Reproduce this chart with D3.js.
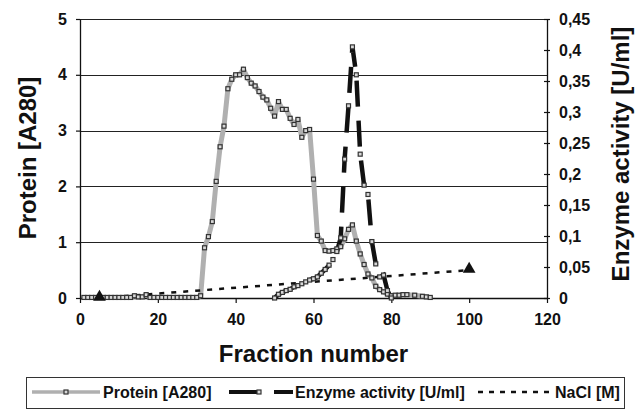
<!DOCTYPE html>
<html>
<head>
<meta charset="utf-8">
<script src="https://cdn.jsdelivr.net/npm/d3@7"></script>
<style>
	body { margin: 0; background: #fff; }
	svg { display: block; font-family: "Liberation Sans", Arial, sans-serif; }
</style>
</head>
<body>
<div id="chartDiv"></div>
<script>
;(function() {

	// fraction numbers and A280 readings (protein)
	var proteinFraction = [1, 2, 3, 4, 5, 6, 7, 8, 9, 10, 11, 12, 13, 14, 15, 16, 17, 18, 19, 20,
		21, 22, 23, 24, 25, 26, 27, 28, 29, 30, 31, 32, 33, 34, 35, 36, 37, 38, 39, 40,
		41, 42, 43, 44, 45, 46, 47, 48, 49, 50, 51, 52, 53, 54, 55, 56, 57, 58, 59, 60,
		61, 62, 63, 64, 65, 66, 67, 68, 69, 70, 71, 72, 73, 74, 75, 76, 77, 78, 79, 80,
		81, 82, 83, 84, 86, 88, 89, 90];
	var proteinA280 = [0.01, 0.01, 0.01, 0.01, 0.01, 0.01, 0.01, 0.01, 0.01, 0.01, 0.01, 0.01, 0.01, 0.04, 0.02, 0.02, 0.06, 0.01, 0.01, 0.01,
		0.01, 0.01, 0.01, 0.01, 0.01, 0.01, 0.01, 0.01, 0.01, 0.01, 0.04, 0.9, 1.1, 1.37, 2.09, 2.71, 3.08, 3.75, 3.92, 4.0,
		4.0, 4.1, 3.95, 3.85, 3.8, 3.7, 3.6, 3.55, 3.4, 3.26, 3.52, 3.38, 3.38, 3.22, 3.11, 3.2, 2.88, 3.0, 3.02, 2.13,
		1.12, 1.02, 0.85, 0.84, 0.85, 0.88, 0.92, 1.06, 1.23, 1.31, 1.02, 0.79, 0.6, 0.43, 0.36, 0.21, 0.15, 0.11, 0.07, 0.04,
		0.05, 0.05, 0.06, 0.06, 0.05, 0.03, 0.02, 0.01];

	// enzyme activity [U/ml]
	var enzymeFraction = [50, 51, 52, 53, 54, 55, 56, 57, 58, 59, 60, 61, 62, 63, 64, 65,
		66, 67, 68, 69, 70, 71, 72, 73, 74, 75, 76, 77, 78, 79, 80];
	var enzymeActivity = [0.0, 0.006, 0.009, 0.012, 0.014, 0.018, 0.020, 0.023, 0.026, 0.029, 0.031, 0.034, 0.040, 0.046, 0.053, 0.062,
		0.075, 0.097, 0.224, 0.310, 0.405, 0.360, 0.232, 0.182, 0.167, 0.091, 0.055, 0.034, 0.037, 0.012, 0.0];

	// NaCl gradient [M]
	var naclFraction = [5, 100];
	var naclMolar = [0, 0.5];

	var xTicks = [0, 20, 40, 60, 80, 100, 120];
	var yLeftTicks = [0, 1, 2, 3, 4, 5];
	var yRightTicks = [0, 0.05, 0.1, 0.15, 0.2, 0.25, 0.3, 0.35, 0.4, 0.45];

	var width = 643;
	var height = 410;
	var plot = { left: 80, right: 547, top: 19, bottom: 298 };
	var fontFamily = "'Liberation Sans', Arial, sans-serif";

	var proteinGray = "#b0b0b0";
	var markerStroke = "#333";
	var markerFill = "#d8d8d8";

	var svg = d3.select("#chartDiv").append("svg")
		.attr("width", width)
		.attr("height", height);

	svg.append("rect").attr("width", width).attr("height", height).attr("fill", "#fff");

	var xScale = d3.scaleLinear().domain([0, 120]).range([plot.left, plot.right]);
	var yLeft = d3.scaleLinear().domain([0, 5]).range([plot.bottom, plot.top]);
	var yRight = d3.scaleLinear().domain([0, 0.45]).range([plot.bottom, plot.top]);

	// gridlines
	svg.append("g").selectAll("line")
		.data(yLeftTicks.slice(1))
		.enter().append("line")
			.attr("x1", plot.left).attr("x2", plot.right)
			.attr("y1", function(d) { return Math.round(yLeft(d)) + 0.5; })
			.attr("y2", function(d) { return Math.round(yLeft(d)) + 0.5; })
			.attr("stroke", "#222")
			.attr("stroke-width", 1);

	// x axis
	var xAxis = d3.axisBottom(xScale)
		.tickValues(xTicks)
		.tickSize(5)
		.tickSizeOuter(0)
		.tickPadding(11)
		.tickFormat(d3.format("d"));
	var xg = svg.append("g")
		.attr("transform", "translate(0," + plot.bottom + ")")
		.call(xAxis);

	// left axis
	var yAxisL = d3.axisLeft(yLeft)
		.tickValues(yLeftTicks)
		.tickSize(4)
		.tickSizeOuter(0)
		.tickPadding(9)
		.tickFormat(d3.format("d"));
	var ylg = svg.append("g")
		.attr("transform", "translate(" + plot.left + ",0)")
		.call(yAxisL);

	// right axis, ticks crossing the line
	var yAxisR = d3.axisRight(yRight)
		.tickValues(yRightTicks)
		.tickSize(3)
		.tickSizeOuter(0)
		.tickPadding(9)
		.tickFormat(function(d) { return String(+d.toFixed(2)).replace(".", ","); });
	var yrg = svg.append("g")
		.attr("transform", "translate(" + plot.right + ",0)")
		.call(yAxisR);
	yrg.selectAll(".tick line").attr("x1", -3);

	[xg, ylg, yrg].forEach(function(g) {
		g.attr("font-family", null).attr("font-size", null);
		g.select(".domain").attr("stroke", "#111").attr("stroke-width", 1.3);
		g.selectAll(".tick line").attr("stroke", "#111").attr("stroke-width", 1.2);
		g.selectAll(".tick text")
			.attr("fill", "#111")
			.style("font-family", fontFamily)
			.style("font-size", "16px")
			.style("font-weight", "700");
	});

	// axis titles
	svg.append("text")
		.attr("x", (plot.left + plot.right) / 2)
		.attr("y", 362)
		.attr("text-anchor", "middle")
		.style("font-size", "24px").style("font-weight", "bold").attr("fill", "#111")
		.text("Fraction number");

	svg.append("text")
		.attr("transform", "translate(36," + 158 + ") rotate(-90)")
		.attr("text-anchor", "middle")
		.style("font-size", "24px").style("font-weight", "bold").attr("fill", "#111")
		.text("Protein [A280]");

	svg.append("text")
		.attr("transform", "translate(629," + 154 + ") rotate(-90)")
		.attr("text-anchor", "middle")
		.style("font-size", "24px").style("font-weight", "bold").attr("fill", "#111")
		.text("Enzyme activity [U/ml]");

	// series data
	var proteinData = proteinFraction.map(function(f, i) { return { x: f, y: proteinA280[i] }; });
	var enzymeData = enzymeFraction.map(function(f, i) { return { x: f, y: enzymeActivity[i] }; });
	var naclData = naclFraction.map(function(f, i) { return { x: f, y: naclMolar[i] }; });

	var proteinLine = d3.line()
		.x(function(d) { return xScale(d.x); })
		.y(function(d) { return yLeft(d.y); });
	var enzymeLine = d3.line()
		.x(function(d) { return xScale(d.x); })
		.y(function(d) { return yRight(d.y); });

	// protein
	svg.append("path")
		.datum(proteinData)
		.attr("d", proteinLine)
		.attr("fill", "none")
		.attr("stroke", proteinGray)
		.attr("stroke-width", 5)
		.attr("stroke-linejoin", "round");

	// enzyme
	svg.append("path")
		.datum(enzymeData)
		.attr("d", enzymeLine)
		.attr("fill", "none")
		.attr("stroke", "#111")
		.attr("stroke-width", 4.5)
		.attr("stroke-dasharray", "26,14");

	// NaCl
	svg.append("path")
		.datum(naclData)
		.attr("d", proteinLine)
		.attr("fill", "none")
		.attr("stroke", "#111")
		.attr("stroke-width", 2.5)
		.attr("stroke-dasharray", "5,7");

	function drawSquares(data, yScale) {
		svg.append("g").selectAll("rect")
			.data(data)
			.enter().append("rect")
				.attr("x", function(d) { return xScale(d.x) - 2; })
				.attr("y", function(d) { return yScale(d.y) - 2; })
				.attr("width", 4)
				.attr("height", 4)
				.attr("fill", markerFill)
				.attr("stroke", markerStroke)
				.attr("stroke-width", 1.2);
	}
	drawSquares(proteinData, yLeft);
	drawSquares(enzymeData, yRight);

	var tri = d3.symbol().type(d3.symbolTriangle).size(70);
	svg.append("g").selectAll("path")
		.data(naclData)
		.enter().append("path")
			.attr("d", tri)
			.attr("transform", function(d) { return "translate(" + xScale(d.x) + "," + (yLeft(d.y) - 1) + ")"; })
			.attr("fill", "#111");

	// legend
	var leg = svg.append("g");
	leg.append("rect")
		.attr("x", 26.5).attr("y", 377.5)
		.attr("width", 598).attr("height", 31)
		.attr("fill", "#fff")
		.attr("stroke", "#333")
		.attr("stroke-width", 1);

	var ly = 392;
	leg.append("line")
		.attr("x1", 32).attr("x2", 100).attr("y1", ly).attr("y2", ly)
		.attr("stroke", proteinGray).attr("stroke-width", 3.5);
	leg.append("rect")
		.attr("x", 64).attr("y", ly - 2).attr("width", 4).attr("height", 4)
		.attr("fill", markerFill).attr("stroke", markerStroke).attr("stroke-width", 1.2);

	leg.append("line")
		.attr("x1", 229).attr("x2", 293).attr("y1", ly).attr("y2", ly)
		.attr("stroke", "#111").attr("stroke-width", 4)
		.attr("stroke-dasharray", "29,16");
	leg.append("rect")
		.attr("x", 257).attr("y", ly - 2).attr("width", 4).attr("height", 4)
		.attr("fill", markerFill).attr("stroke", markerStroke).attr("stroke-width", 1.2);

	leg.append("line")
		.attr("x1", 478).attr("x2", 553).attr("y1", ly).attr("y2", ly)
		.attr("stroke", "#111").attr("stroke-width", 2.5)
		.attr("stroke-dasharray", "5,6");

	var legendLabels = [
		{ x: 103, t: "Protein [A280]" },
		{ x: 295, t: "Enzyme activity [U/ml]" },
		{ x: 555, t: "NaCl [M]" }
	];
	leg.selectAll(".ltext")
		.data(legendLabels)
		.enter().append("text")
			.attr("class", "ltext")
			.attr("x", function(d) { return d.x; })
			.attr("y", 398)
			.style("font-size", "16px").style("font-weight", "bold").attr("fill", "#111")
			.text(function(d) { return d.t; });

})();
</script>
</body>
</html>
